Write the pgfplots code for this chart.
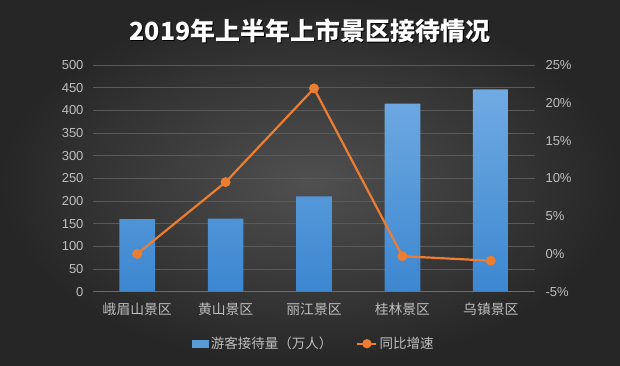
\documentclass[border=0pt]{standalone}
\usepackage{fontspec}
\setmainfont{Noto Sans CJK SC}
\newfontfamily\numfont{Liberation Sans}
\usepackage{pgfplots}
\pgfplotsset{compat=1.18}
\definecolor{bgin}{HTML}{505050}
\definecolor{bgout}{HTML}{262626}
\definecolor{gridc}{HTML}{5A5A5A}
\definecolor{tickc}{HTML}{BFBFBF}
\definecolor{barTop}{HTML}{70AAE2}
\definecolor{barBot}{HTML}{3C87D0}
\definecolor{barC}{HTML}{5B9BD5}
\definecolor{lineC}{HTML}{ED7D31}
\begin{document}
\begin{tikzpicture}[x=1pt,y=1pt]
\shade[inner color=bgin, outer color=bgout] (0,0) rectangle (620,365);
\node[text=black, font=\bfseries\fontsize{25}{29}\selectfont] at (311,333) {2019年上半年上市景区接待情况};
\node[text=white, font=\bfseries\fontsize{25}{29}\selectfont] at (310,334) {2019年上半年上市景区接待情况};
\begin{axis}[
  at={(93pt,73.3pt)}, anchor=south west,
  scale only axis, width=442pt, height=226.7pt,
  xmin=-0.5, xmax=4.5, ymin=0, ymax=500,
  xtick={0,1,2,3,4},
  xticklabels={峨眉山景区,黄山景区,丽江景区,桂林景区,乌镇景区},
  ytick={0,50,...,500},
  yticklabels={0,50,100,150,200,250,300,350,400,450,500},
  major tick length=0pt,
  axis x line=bottom, axis y line=left,
  axis line style={-},
  y axis line style={draw=none},
  x axis line style={draw=gray!85!black, line width=0.8pt},
  ymajorgrids, grid style={gridc, line width=0.6pt},
  tick label style={text=tickc},
  yticklabel style={font=\numfont\fontsize{13}{15}\selectfont, xshift=-6pt},
  xticklabel style={font=\fontsize{13.8}{16}\selectfont, yshift=-8pt},
  /pgf/number format/assume math mode=true,
  clip=false,
]
\addplot[ybar, bar width=35.7pt, draw=none, top color=barTop, bottom color=barBot]
  coordinates {(0,160) (1,161) (2,210) (3,415) (4,446)};
\end{axis}
\begin{axis}[
  at={(93pt,73.3pt)}, anchor=south west,
  scale only axis, width=442pt, height=226.7pt,
  xmin=-0.5, xmax=4.5, ymin=-5, ymax=25,
  axis y line*=right, hide x axis,
  y axis line style={draw=none},
  major tick length=0pt,
  ytick={-5,0,5,10,15,20,25},
  yticklabels={-5\%,0\%,5\%,10\%,15\%,20\%,25\%},
  tick label style={text=tickc, font=\numfont\fontsize{13}{15}\selectfont},
  yticklabel style={xshift=7pt},
  /pgf/number format/assume math mode=true,
  legend style={at={(0.5,-0.2294)}, anchor=center, draw=none, fill=none,
    text=tickc, font=\fontsize{13.5}{15}\selectfont, legend columns=2,
    /tikz/every even column/.append style={column sep=22pt}},
  clip=false,
]
\addlegendimage{legend image code/.code={\fill[barC] (0pt,-3.5pt) rectangle (16pt,3.5pt);}}
\addlegendentry{游客接待量（万人）}
\addplot[color=lineC, line width=2.2pt, mark=*, mark size=3.8pt, mark options={fill=lineC, draw=lineC},
  legend image code/.code={\draw[lineC, line width=2.2pt] (0pt,0pt) -- (19pt,0pt); \fill[lineC] (9.5pt,0pt) circle (3.5pt);}]
  coordinates {(0,0) (1,9.5) (2,21.9) (3,-0.3) (4,-0.9)};
\addlegendentry{同比增速}
\end{axis}
\end{tikzpicture}
\end{document}
